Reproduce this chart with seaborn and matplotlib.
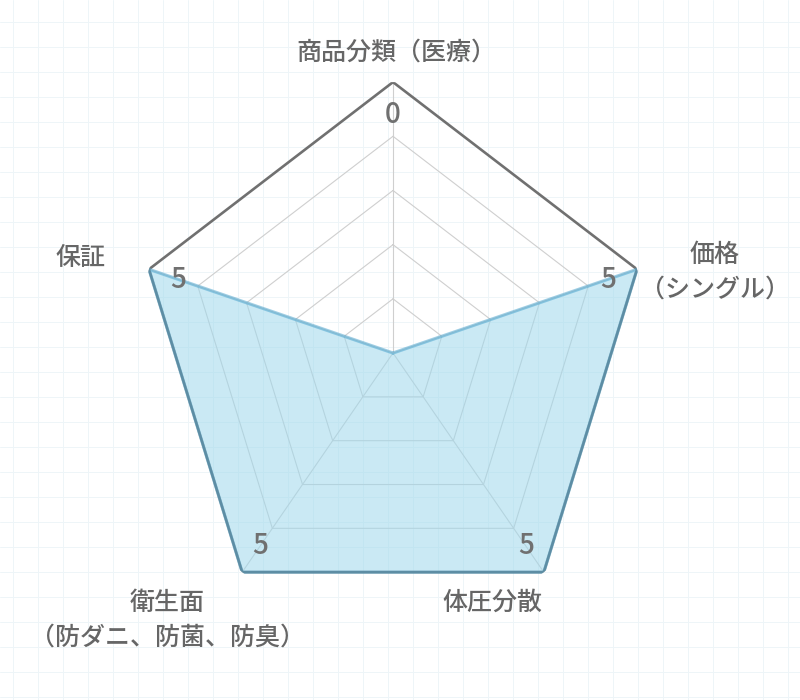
import numpy as np
import matplotlib
matplotlib.use("Agg")
import matplotlib.pyplot as plt
import seaborn as sns

# ---- data ----
categories = ['商品分類（医療）', '価格\n（シングル）', '体圧分散',
              '衛生面\n（防ダニ、防菌、防臭）', '保証']
values = [0, 5, 5, 5, 5]
r_max = 5
grid_levels = [1, 2, 3, 4, 5]

sns.set_theme(style="white")
plt.rcParams['font.family'] = ['Noto Sans CJK JP', 'DejaVu Sans']

TEXT = '#666666'
fig = plt.figure(figsize=(8, 7), dpi=100)

# faint background grid paper
bg = fig.add_axes([0, 0, 1, 1], zorder=0)
bg.set_xlim(0, 800)
bg.set_ylim(700, 0)
bg.set_xticks(np.arange(12.5, 800, 25))
bg.set_yticks(np.arange(21.7, 700, 25))
bg.grid(True, color='#eef5f8', linewidth=0.7)
bg.tick_params(length=0, labelbottom=False, labelleft=False)
for s in bg.spines.values():
    s.set_visible(False)

# radar axes
ax = fig.add_axes([0.1705, 0.1087, 0.6415, 0.774], projection='polar', zorder=1)
ax.set_aspect('auto')
ax.set_facecolor('none')
ax.set_theta_offset(np.pi / 2)
ax.set_theta_direction(-1)
ax.set_ylim(0, r_max)
ax.grid(False)
ax.spines['polar'].set_visible(False)
ax.set_xticks([])
ax.set_yticks([])

n = len(categories)
theta = np.arange(n) * 2 * np.pi / n
theta_c = np.append(theta, theta[0])

# pentagon grid
for lvl in grid_levels:
    if lvl == r_max:
        ax.plot(theta_c, [lvl] * (n + 1), color='#707070', lw=1.9, zorder=3.5)
    else:
        ax.plot(theta_c, [lvl] * (n + 1), color='#cfcfcf', lw=0.8, zorder=1)
for t in theta:
    ax.plot([t, t], [0, r_max], color='#cfcfcf', lw=0.8, zorder=1)

# data polygon
vals_c = np.append(values, values[0])
ax.fill(theta_c, vals_c, color='#9fd8ec', alpha=0.55, lw=0, zorder=3)
sns.lineplot(x=theta_c, y=vals_c, sort=False, ax=ax, color='#4ea6cf',
             alpha=0.55, lw=2.3, zorder=4, estimator=None)

# value labels
for t, v in zip(theta, values):
    ax.text(t, 4.4, str(v), ha='center', va='center', fontsize=20,
            fontweight='medium', color='#707070', zorder=5)

# category labels
offsets = [(3, 30), (78, -3), (-51, -31), (-75, -48), (-68, 11)]
for t, lab, off in zip(theta, categories, offsets):
    ax.annotate(lab, xy=(t, r_max), xytext=off, textcoords='offset pixels',
                ha='center', va='center', fontsize=18, fontweight='medium',
                color=TEXT, linespacing=1.4, annotation_clip=False, zorder=5)

fig.savefig('out.png', dpi=100)
